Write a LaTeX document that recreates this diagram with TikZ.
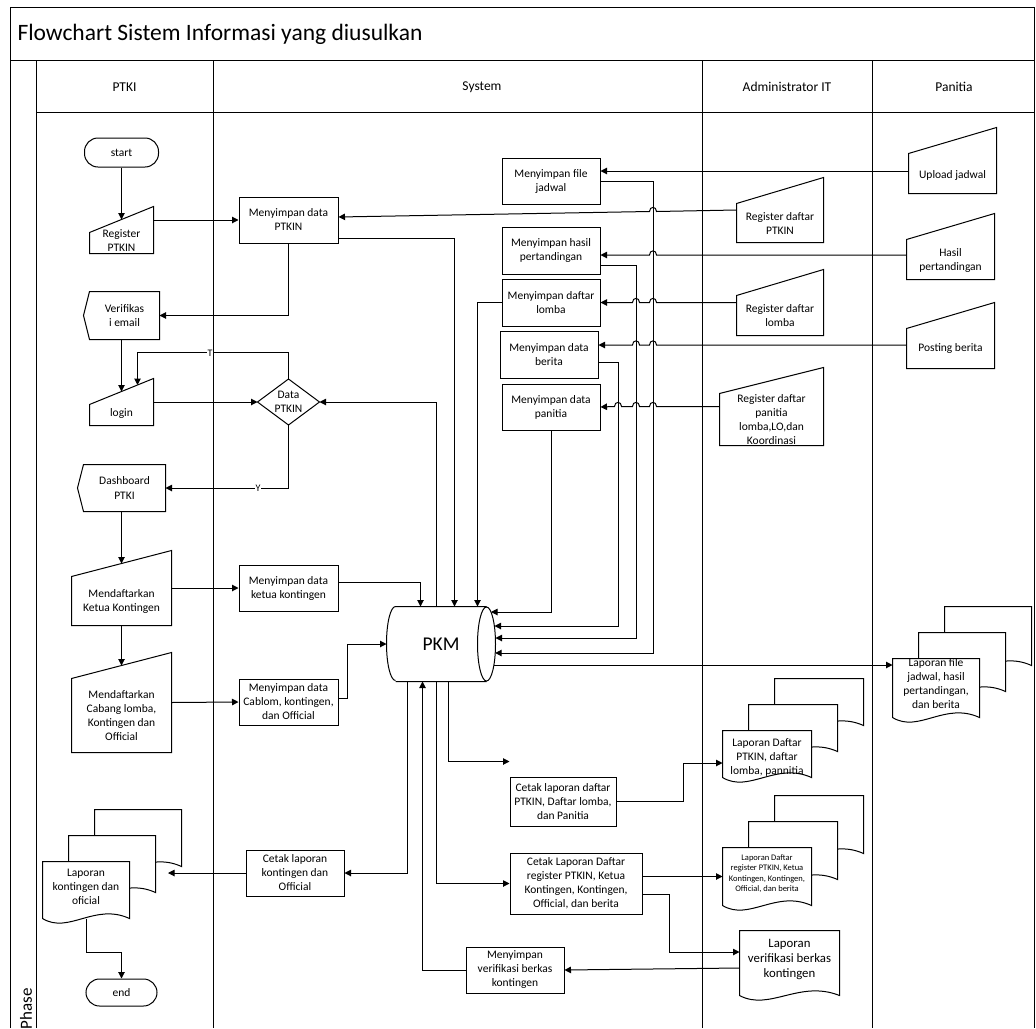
\documentclass[tikz,border=0pt]{standalone}
\usepackage{fontspec}
\setmainfont{Carlito}
\usetikzlibrary{arrows.meta,calc}

% outlines drawn on the anchors of a named node
\newcommand{\maninshape}[1]{\draw ([yshift=-26pt]#1.north west) -- (#1.north east) -- (#1.south east) -- (#1.south west) -- cycle;}
\newcommand{\dispshape}[1]{\draw (#1.north west) -- (#1.north east) -- (#1.south east) -- (#1.south west) -- ([xshift=-6pt]#1.west) -- cycle;}
\newcommand{\decshape}[1]{\draw (#1.north) -- (#1.east) -- (#1.south) -- (#1.west) -- cycle;}
\newcommand{\drumshape}[1]{\draw (#1.north west) -- (#1.north east) (#1.south west) -- (#1.south east)
  (#1.north west) arc[start angle=90,end angle=270,x radius=9pt,y radius=37pt]
  (#1.east) ellipse[x radius=9pt,y radius=37pt];}
\newcommand{\docpage}[3]{\draw[fill=white] ($(#1.north west)+(#2,#3)$) -- ($(#1.north east)+(#2,#3)$) -- ($(#1.south east)+(#2,#3)$)
  .. controls ($(#1.south west)!0.6!(#1.south east)+(#2,#3-16)$) and ($(#1.south west)!0.3!(#1.south east)+(#2,#3+16)$) .. ($(#1.south west)+(#2,#3)$) -- cycle;}
\newcommand{\docstack}[1]{\docpage{#1}{52}{-52}\docpage{#1}{26}{-26}\docpage{#1}{0}{0}}
% line jump over a vertical line at x=#1
\newcommand{\linehop}[2]{-- (#1+3.5,#2) .. controls (#1+3.5,#2-5.5) and (#1-3.5,#2-5.5) .. (#1-3.5,#2)}

\begin{document}
\begin{tikzpicture}[x=1pt,y=-1pt,line width=1pt,
    >={Triangle[length=6.5pt,width=6.5pt]},
    txt/.style={align=center,inner sep=0pt,font=\fontsize{11.5}{14}\selectfont},
    box/.style={txt,draw,rectangle},
    term/.style={box,rounded corners=13.5pt},
    shp/.style={rectangle,draw=none,inner sep=0pt},
    lbl/.style={fill=white,inner sep=1pt,font=\fontsize{10}{12}\selectfont}]
    \useasboundingbox (0,0) rectangle (1036,1028);

    % frame and lanes
    \draw (10,1028) -- (10,7) -- (1034,7) -- (1034,1028);
    \draw (10,60) -- (1034,60);
    \draw (36,112) -- (1034,112);
    \foreach \x in {36,213,702,872} \draw (\x,60) -- (\x,1028);
    \node[anchor=west,inner sep=0pt,font=\fontsize{23.5}{27}\selectfont] (title) at (17,34) {Flowchart Sistem Informasi yang diusulkan};
    \node[font=\fontsize{13.5}{15}\selectfont] (hPTKI) at (124.5,87) {PTKI};
    \node[font=\fontsize{13.5}{15}\selectfont] (hSystem) at (482,87) {System};
    \node[font=\fontsize{13.5}{15}\selectfont] (hAdmin) at (787,87) {Administrator IT};
    \node[font=\fontsize{13.5}{15}\selectfont] (hPanitia) at (954,87) {Panitia};
    \node[rotate=90,anchor=east,inner sep=0pt,font=\fontsize{17}{19}\selectfont] (phase) at (26,988) {Phase};

    % PTKI
    \node[term,minimum width=74,minimum height=29] (start) at (121.5,152.5) {start};
    \node[shp,minimum width=63,minimum height=46] (regPTKIN) at (121.5,230) {};
    \maninshape{regPTKIN}
    \node[txt] (regPTKIN-t) at (121.5,241) {Register\\PTKIN};
    \node[txt,minimum width=69,minimum height=47] (verif) at (124.5,315.5) {Verifikas\\i email};
    \dispshape{verif}
    \node[shp,minimum width=63,minimum height=46] (login) at (121.5,402) {};
    \maninshape{login}
    \node[txt] (login-t) at (121.5,413) {login};
    \node[txt,minimum width=81,minimum height=46] (dash) at (124.5,488) {Dashboard\\PTKI};
    \dispshape{dash}
    \node[shp,minimum width=99,minimum height=74] (ketua) at (121.5,588) {};
    \maninshape{ketua}
    \node[txt] (ketua-t) at (121.5,601) {Mendaftarkan\\Ketua Kontingen};
    \node[shp,minimum width=99,minimum height=99] (cabang) at (121.5,702.5) {};
    \maninshape{cabang}
    \node[txt] (cabang-t) at (121.5,716) {Mendaftarkan\\Cabang lomba,\\Kontingen dan\\Official};
    \node[shp,minimum width=86,minimum height=56] (lapKont) at (86,890) {};
    \docstack{lapKont}
    \node[txt] (lapKont-t) at (86,887) {Laporan\\kontingen dan\\oficial};
    \node[term,minimum width=71,minimum height=27] (finish) at (121.5,992.5) {end};
    \coordinate (kontIn) at (168,873);

    % System
    \node[box,minimum width=99,minimum height=46] (simPTKIN) at (288.5,220) {Menyimpan data\\PTKIN};
    \node[shp,txt,minimum width=61,minimum height=45] (dataP) at (288.5,402) {Data\\PTKIN};
    \decshape{dataP}
    \node[box,minimum width=99,minimum height=46] (ketuaS) at (288.5,588) {Menyimpan data\\ketua kontingen};
    \node[box,minimum width=99,minimum height=46] (cablom) at (288.5,702) {Menyimpan data\\Cablom, kontingen,\\dan Official};
    \node[box,minimum width=98,minimum height=46] (cetakKont) at (295,873) {Cetak laporan\\kontingen dan\\Official};
    \node[box,minimum width=98,minimum height=46] (fileJ) at (551,181) {Menyimpan file\\jadwal};
    \node[box,minimum width=98,minimum height=47] (hasilS) at (551,250.5) {Menyimpan hasil\\pertandingan};
    \node[box,minimum width=98,minimum height=47] (lombaS) at (551,302.5) {Menyimpan daftar\\lomba};
    \node[box,minimum width=98,minimum height=47] (beritaS) at (549,354.5) {Menyimpan data\\berita};
    \node[box,minimum width=98,minimum height=46] (panitiaS) at (551,407) {Menyimpan data\\panitia};
    \node[shp,minimum width=90,minimum height=74,font=\fontsize{19.5}{22}\selectfont] (pkm) at (441,644) {PKM};
    \drumshape{pkm}
    \node[box,minimum width=106,minimum height=49] (cetakD) at (563,801.5) {Cetak laporan daftar\\PTKIN, Daftar lomba,\\dan Panitia};
    \node[box,minimum width=132,minimum height=61] (cetakReg) at (576,883.5) {Cetak Laporan Daftar\\register PTKIN, Ketua\\Kontingen, Kontingen,\\Official, dan berita};
    \node[box,minimum width=98,minimum height=46] (verifS) at (515,970) {Menyimpan\\verifikasi berkas\\kontingen};

    % ports on PKM
    \coordinate (pT1) at ([xshift=25pt]pkm.north west);
    \coordinate (pT2) at ([xshift=41pt]pkm.north west);
    \coordinate (pT3) at ([xshift=59pt]pkm.north west);
    \coordinate (pT4) at ([xshift=82pt]pkm.north west);
    \coordinate (pB1) at ([xshift=12pt]pkm.south west);
    \coordinate (pB2) at ([xshift=27pt]pkm.south west);
    \coordinate (pB3) at ([xshift=41pt]pkm.south west);
    \coordinate (pB4) at ([xshift=53pt]pkm.south west);
    \coordinate (pL) at ([xshift=-9pt]pkm.west);
    \coordinate (pR1) at ([shift={(4.5pt,32pt)}]pkm.east);
    \coordinate (pR2) at ([shift={(8pt,18pt)}]pkm.east);
    \coordinate (pR3) at ([shift={(9pt,6pt)}]pkm.east);
    \coordinate (pR4) at ([shift={(8.7pt,-9pt)}]pkm.east);
    \coordinate (pR5) at ([shift={(7.4pt,-21pt)}]pkm.east);

    % Administrator IT
    \node[shp,minimum width=86,minimum height=64] (regDP) at (780,210) {};
    \maninshape{regDP}
    \node[txt] (regDP-t) at (780,223.5) {Register daftar\\PTKIN};
    \node[shp,minimum width=86,minimum height=65] (regDL) at (780,302.5) {};
    \maninshape{regDL}
    \node[txt] (regDL-t) at (780,316) {Register daftar\\lomba};
    \node[shp,minimum width=103,minimum height=77] (regPan) at (771.5,406.5) {};
    \maninshape{regPan}
    \node[txt] (regPan-t) at (771.5,420) {Register daftar\\panitia\\lomba,LO,dan\\Koordinasi};
    \node[shp,minimum width=88,minimum height=46] (lapD) at (767,754) {};
    \docstack{lapD}
    \node[txt] (lapD-t) at (767,757) {Laporan Daftar\\PTKIN, daftar\\lomba, pannitia};
    \node[shp,minimum width=88,minimum height=57] (lapReg) at (767,876.5) {};
    \docstack{lapReg}
    \node[txt,font=\fontsize{8.5}{10.5}\selectfont] (lapReg-t) at (767,873.5) {Laporan Daftar\\register PTKIN, Ketua\\Kontingen, Kontingen,\\Official, dan berita};
    \node[shp,minimum width=99,minimum height=64] (lapVer) at (789.5,963) {};
    \docpage{lapVer}{0}{0}
    \node[txt,font=\fontsize{12.8}{15}\selectfont] (lapVer-t) at (789.5,959) {Laporan\\verifikasi berkas\\kontingen};

    % Panitia
    \node[shp,minimum width=87,minimum height=65] (upload) at (952.5,160.5) {};
    \maninshape{upload}
    \node[txt] (upload-t) at (952.5,175) {Upload jadwal};
    \node[shp,minimum width=87,minimum height=65] (hasilP) at (950.5,246.5) {};
    \maninshape{hasilP}
    \node[txt] (hasilP-t) at (950.5,260.5) {Hasil\\pertandingan};
    \node[shp,minimum width=87,minimum height=65] (posting) at (950.5,335.5) {};
    \maninshape{posting}
    \node[txt] (posting-t) at (950.5,348) {Posting berita};
    \node[shp,minimum width=86,minimum height=58] (lapFile) at (936,688) {};
    \docstack{lapFile}
    \node[txt] (lapFile-t) at (936,684) {Laporan file\\jadwal, hasil\\pertandingan,\\dan berita};

    % PTKI flow
    \draw[->] (start.south) -- ([yshift=-13pt]regPTKIN.north);
    \draw[->] (regPTKIN.east |- simPTKIN.west) -- (simPTKIN.west);
    \draw[->] (simPTKIN.south) |- (verif.east);
    \draw[->] (login.north |- verif.south) -- ([yshift=-13pt]login.north);
    \draw[->] (login.east) -- (dataP.west);
    \coordinate (loginT) at ($(login.north west)!0.75!(login.north east)+(0,6.5)$);
    \draw[->] (dataP.north) -- ++(0,-26.5) -| (loginT);
    \node[lbl] (lblT) at (210,353) {T};
    \draw[->] (dataP.south) |- (dash.east);
    \node[lbl] (lblY) at (258,488) {Y};
    \draw[->] (ketua.north |- dash.south) -- ([yshift=-13pt]ketua.north);
    \draw[->] (ketua.east) -- (ketuaS.west);
    \draw[->] (ketua.south) -- ([yshift=-13pt]cabang.north);
    \draw[->] (cabang.east) -- (cablom.west);
    \draw[->] (cetakKont.west) -- (kontIn);
    \draw[->] (lapKont.south) -- ++(0,34) -| (finish.north);

    % into PKM
    \draw[->] ([yshift=5pt]simPTKIN.south east) -| (pT3);
    \draw[->] ([yshift=6pt]ketuaS.east) -| (pT1);
    \draw[->] ([yshift=4pt]cablom.east) -- ++(9,0) |- (pL);
    \draw[->] (lombaS.west) -| (pT4);
    \draw[->] (panitiaS.south) |- (pR1);
    \draw[->] ([yshift=-7.5pt]beritaS.east) -- ++(20,0) |- (pR2);
    \draw[->] ([yshift=-14.5pt]hasilS.east) -- ++(36,0) |- (pR3);
    \draw[->] (fileJ.east) -- ++(53,0) |- (pR4);
    \draw[->] (verifS.west) -| (pB2);

    % out of PKM
    \draw[->] (pT2) |- (dataP.east);
    \draw[->] (pR5) -- ([yshift=23pt]lapFile.west);
    \draw[->] (pB1) |- (cetakKont.east);
    \draw[->] (pB3) |- (cetakReg.west);
    \draw[->] (pB4) |- ([yshift=15pt]cetakD.north west);
    \draw[->] (cetakD.east) -- ++(67,0) |- ([yshift=-9pt]lapD.west);
    \draw[->] ([yshift=7pt]cetakReg.east) -- (lapReg.west);
    \draw[->] ([yshift=-10.5pt]cetakReg.east) -- ++(27,0) |- ([yshift=11pt]lapVer.west);
    \draw[->] ([yshift=-5pt]lapVer.west) -- (verifS.east);

    % inputs from Administrator IT and Panitia
    \draw[->] ([yshift=-10.5pt]upload.west) -- ([yshift=10pt]fileJ.east);
    \draw[->] (regDP.west) \linehop{653}{211.5} -- ([yshift=3pt]simPTKIN.east);
    \draw[->] ([yshift=-8.5pt]hasilP.west) \linehop{653}{255} -- ([yshift=-4.5pt]hasilS.east);
    \draw[->] (regDL.west) \linehop{653}{302.5} \linehop{636}{302.5} -- (lombaS.east);
    \draw[->] ([yshift=-9.5pt]posting.west) \linehop{653}{345} \linehop{636}{345} -- ([yshift=9.5pt]beritaS.east);
    \draw[->] (regPan.west) \linehop{653}{406.5} \linehop{636}{406.5} \linehop{618}{406.5} -- (panitiaS.east);
\end{tikzpicture}
\end{document}
